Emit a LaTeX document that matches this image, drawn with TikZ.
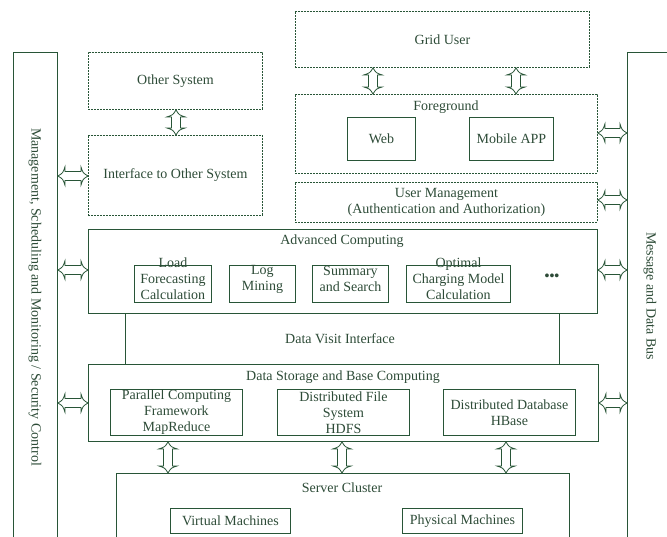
\documentclass[tikz,border=0pt]{standalone}
\usepackage{fontspec}
\setmainfont{Liberation Serif}
\usetikzlibrary{calc}
\definecolor{ln}{RGB}{40,85,55}
\definecolor{tx}{RGB}{45,75,55}
\newcommand\VArr[3]{\draw[harrow] let \p1=(#2.south), \p2=(#3.north), \p3=(#1,0) in
  (\x3,\y1) .. controls (\x3+3pt,\y1-5pt) .. (\x3+9pt,\y1-7pt) -- (\x3+4.5pt,\y1-7pt) -- (\x3+4.5pt,\y2+7pt) -- (\x3+9pt,\y2+7pt) .. controls (\x3+3pt,\y2+5pt) .. (\x3,\y2)
  .. controls (\x3-3pt,\y2+5pt) .. (\x3-9pt,\y2+7pt) -- (\x3-4.5pt,\y2+7pt) -- (\x3-4.5pt,\y1-7pt) -- (\x3-9pt,\y1-7pt) .. controls (\x3-3pt,\y1-5pt) .. cycle;}
\newcommand\HArr[3]{\draw[harrow] let \p1=(#2.east), \p2=(#3.west), \p3=(0,#1) in
  (\x1,\y3) .. controls (\x1+5pt,\y3+3pt) .. (\x1+7pt,\y3+9pt) -- (\x1+7pt,\y3+4.5pt) -- (\x2-7pt,\y3+4.5pt) -- (\x2-7pt,\y3+9pt) .. controls (\x2-5pt,\y3+3pt) .. (\x2,\y3)
  .. controls (\x2-5pt,\y3-3pt) .. (\x2-7pt,\y3-9pt) -- (\x2-7pt,\y3-4.5pt) -- (\x1+7pt,\y3-4.5pt) -- (\x1+7pt,\y3-9pt) .. controls (\x1+5pt,\y3-3pt) .. cycle;}
\begin{document}
\begin{tikzpicture}[x=1pt,y=-1pt,
  font=\fontsize{14}{16}\selectfont,
  every node/.style={text=tx},
  box/.style={draw=ln, line width=0.9pt, inner sep=0pt, anchor=north west},
  dbox/.style={box, dash pattern=on 2pt off 1pt},
  harrow/.style={draw=ln, line width=0.8pt, fill=white},
  conn/.style={draw=ln, line width=0.9pt}]
\clip (0,0) rectangle (667,536);
% side bars
\node[box, minimum width=44, minimum height=520] (mgmt) at (13,52) {};
\node[box, minimum width=60, minimum height=520] (bus) at (627,52) {};
\node[rotate=-90] (mgmtlbl) at (35,297) {Management, Scheduling and Monitoring / Security Control};
\node[rotate=-90] (buslbl) at (650,296) {Message and Data Bus};
% other system
\node[dbox, minimum width=174, minimum height=57] (other) at (88,52) {Other System};
\node[dbox, minimum width=174, minimum height=80] (iface) at (88,135) {Interface to Other System};
% user side
\node[dbox, minimum width=294, minimum height=56] (grid) at (295,11) {Grid User};
\node[dbox, minimum width=302, minimum height=79] (fore) at (295,94) {};
\node (foret) at (446,107) {Foreground};
\node[box, minimum width=68, minimum height=43] (web) at (347,117) {Web};
\node[box, minimum width=84, minimum height=43] (mobile) at (469,117) {Mobile APP};
\node[dbox, minimum width=302, minimum height=40, align=center] (user) at (295,182) {User Management\\(Authentication and Authorization)};
% advanced computing
\node[box, minimum width=509, minimum height=84] (adv) at (88,229) {};
\node (advt) at (342,241) {Advanced Computing};
\node[box, minimum width=77, minimum height=37, label={[yshift=5pt,align=center]center:{Load\\Forecasting\\Calculation}}] (load) at (134,265) {};
\node[box, minimum width=66, minimum height=37, label={[yshift=5pt,align=center]center:{Log\\Mining}}] (log) at (229,265) {};
\node[box, minimum width=76, minimum height=37, label={[yshift=5pt,align=center]center:{Summary\\and Search}}] (summ) at (312,265) {};
\node[box, minimum width=104, minimum height=37, label={[yshift=5pt,align=center]center:{Optimal\\Charging Model\\Calculation}}] (opt) at (406,265) {};
\node (dots) at (552,277) {\textbf{•••}};
% data storage
\node[box, minimum width=510, minimum height=77] (stor) at (88,364) {};
\node (stort) at (343,377) {Data Storage and Base Computing};
\node[box, minimum width=132, minimum height=46, align=center] (par) at (110,389) {Parallel Computing\\Framework\\MapReduce};
\node[box, minimum width=132, minimum height=46, align=center] (dfs) at (277,389) {Distributed File\\System\\HDFS};
\node[box, minimum width=132, minimum height=46, align=center] (hbase) at (443,389) {Distributed Database\\HBase};
% data visit interface
\draw[conn] ([xshift=37pt]adv.south west) -- ([xshift=37pt]stor.north west);
\draw[conn] ([xshift=-38pt]adv.south east) -- ([xshift=-39pt]stor.north east);
\node (dvi) at (340,339) {Data Visit Interface};
% server cluster
\node[box, minimum width=453, minimum height=100] (serv) at (116,473) {};
\node (servt) at (342,488) {Server Cluster};
\node[box, minimum width=120, minimum height=25] (vm) at (170,508) {Virtual Machines};
\node[box, minimum width=120, minimum height=25] (pm) at (402,508) {Physical Machines};
% arrows
\VArr{176}{other}{iface}
\VArr{373}{grid}{fore}
\VArr{516}{grid}{fore}
\VArr{168}{stor}{serv}
\VArr{342}{stor}{serv}
\VArr{506}{stor}{serv}
\HArr{176}{mgmt}{iface}
\HArr{270}{mgmt}{adv}
\HArr{403}{mgmt}{stor}
\HArr{133}{fore}{bus}
\HArr{200}{user}{bus}
\HArr{270}{adv}{bus}
\HArr{403}{stor}{bus}
\end{tikzpicture}
\end{document}
